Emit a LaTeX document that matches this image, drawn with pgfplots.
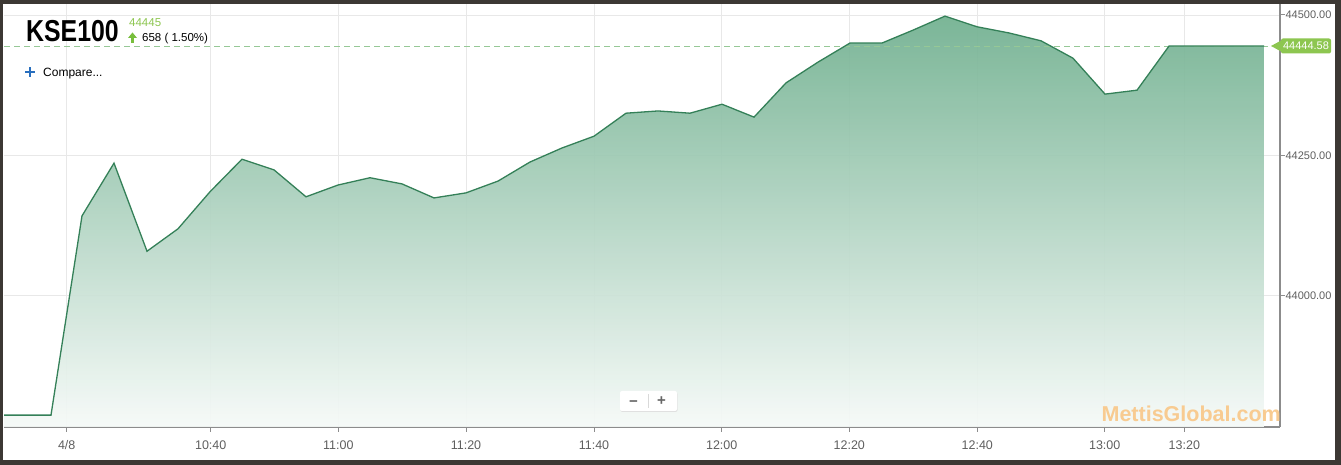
\documentclass[border=0pt]{standalone}
\usepackage{pgfplots}
\pgfplotsset{compat=1.18}
\usepackage{pgfplotstable}
\usepackage{fontspec}
\setmainfont{Liberation Sans}
\newfontfamily\condbold{Liberation Sans}[FakeStretch=0.82]
\definecolor{frame}{RGB}{60,56,52}
\definecolor{linegreen}{RGB}{52,128,88}
\definecolor{topgreen}{RGB}{112,176,143}
\definecolor{botgreen}{RGB}{246,250,248}
\definecolor{lightgreen}{RGB}{141,198,80}
\definecolor{arrowgreen}{RGB}{120,190,60}
\definecolor{dashgreen}{RGB}{150,200,150}
\definecolor{gridgray}{RGB}{232,232,232}
\definecolor{axisgray}{RGB}{140,140,140}
\definecolor{labelgray}{RGB}{95,95,95}
\definecolor{bluep}{RGB}{40,110,190}
\definecolor{watermark}{RGB}{248,203,145}

\pgfplotstableread{
x y
4 43787
51 43787
82 44142
114 44236
147 44079
178 44119
210 44185
242 44243
274 44224
306 44176
338 44197
370 44210
402 44199
434 44174
466 44183
498 44204
530 44238
562 44263
594 44284
626 44325
658 44329
690 44325
722 44341
754 44318
786 44379
818 44416
850 44450
882 44450
913 44473
945 44498
977 44479
1009 44468
1041 44454
1073 44423
1105 44359
1137 44366
1169 44444.58
1264 44444.58
}\kse

\begin{document}
\begin{tikzpicture}[x=1pt,y=1pt]
\useasboundingbox (0,0) rectangle (1341,465);
\fill[frame] (0,0) rectangle (1341,465);
\fill[white] (3,5) rectangle (1335,461);
\begin{axis}[
  at={(4pt,38pt)}, anchor=south west,
  width=1276pt, height=423pt, scale only axis,
  xmin=4, xmax=1280, ymin=43765.8, ymax=44519.6,
  axis x line*=bottom, axis y line*=right,
  axis line style={axisgray, line width=1.3pt, -},
  xtick={66.7,210.7,338.3,466,594,721.7,849.3,977.3,1104.7,1184.3},
  xticklabels={4/8,10:40,11:00,11:20,11:40,12:00,12:20,12:40,13:00,13:20},
  ytick={44000,44250,44500},
  yticklabels={44000.00,44250.00,44500.00},
  tick align=outside,
  major tick length=5pt,
  tick style={axisgray, line width=1pt},
  grid=major,
  major grid style={gridgray, line width=0.9pt},
  xticklabel style={font=\fontsize{12.5}{14}\selectfont, text=labelgray, text height=9pt, text depth=0pt, yshift=-4.5pt},
  yticklabel style={font=\fontsize{11}{13}\selectfont, text=labelgray, xshift=-3pt},
]
\addplot[draw=none, top color=topgreen, bottom color=botgreen, fill opacity=0.92] table {\kse} -- (1264,43765.8) -- (4,43765.8) -- cycle;
\addplot[dashgreen, line width=0.9pt, dash pattern=on 6pt off 4pt] coordinates {(4,44444.58) (1268,44444.58)};
\addplot[linegreen, line width=1.3pt, mark=none] table {\kse};
\end{axis}
% header
\node[anchor=base west, inner sep=0, font=\condbold\bfseries\fontsize{30.3}{32}\selectfont] at (26,423) {KSE100};
\node[anchor=base west, inner sep=0, text=lightgreen, font=\fontsize{11.5}{13}\selectfont] at (129,438.5) {44445};
\fill[arrowgreen] (132.5,432.5) -- (128,427) -- (137,427) -- cycle;
\fill[arrowgreen] (130.8,422) rectangle (134.2,427.5);
\node[anchor=base west, inner sep=0, font=\fontsize{11.5}{13}\selectfont] at (142,423) {658 ( 1.50\%)};
\draw[bluep, line width=2.2pt] (25,393) -- (35,393) (30,388) -- (30,398);
\node[anchor=base west, inner sep=0, font=\fontsize{12}{14}\selectfont] at (43,388) {Compare...};
% value label
\fill[lightgreen] (1271,419) -- (1283,425.5) -- (1283,412.5) -- cycle;
\fill[lightgreen, rounded corners=2pt] (1281,411.5) rectangle (1331,426.5);
\node[anchor=center, inner sep=0, text=white, font=\fontsize{11}{13}\selectfont] at (1306,419) {44444.58};
% zoom buttons
\fill[black!12, rounded corners=2pt] (620.5,53) rectangle (677.5,73);
\fill[white, rounded corners=2pt] (620,54) rectangle (677,74);
\draw[black!15] (648,57) -- (648,71);
\node[anchor=center, inner sep=0, text=black!60, font=\bfseries\fontsize{15}{16}\selectfont] at (633.5,61) {−};
\node[anchor=center, inner sep=0, text=black!60, font=\bfseries\fontsize{15}{16}\selectfont] at (661.5,63.5) {+};
% watermark
\node[anchor=base east, inner sep=0, text=watermark, font=\bfseries\fontsize{21.5}{23}\selectfont] at (1281,43.3) {MettisGlobal.com};
\end{tikzpicture}
\end{document}
